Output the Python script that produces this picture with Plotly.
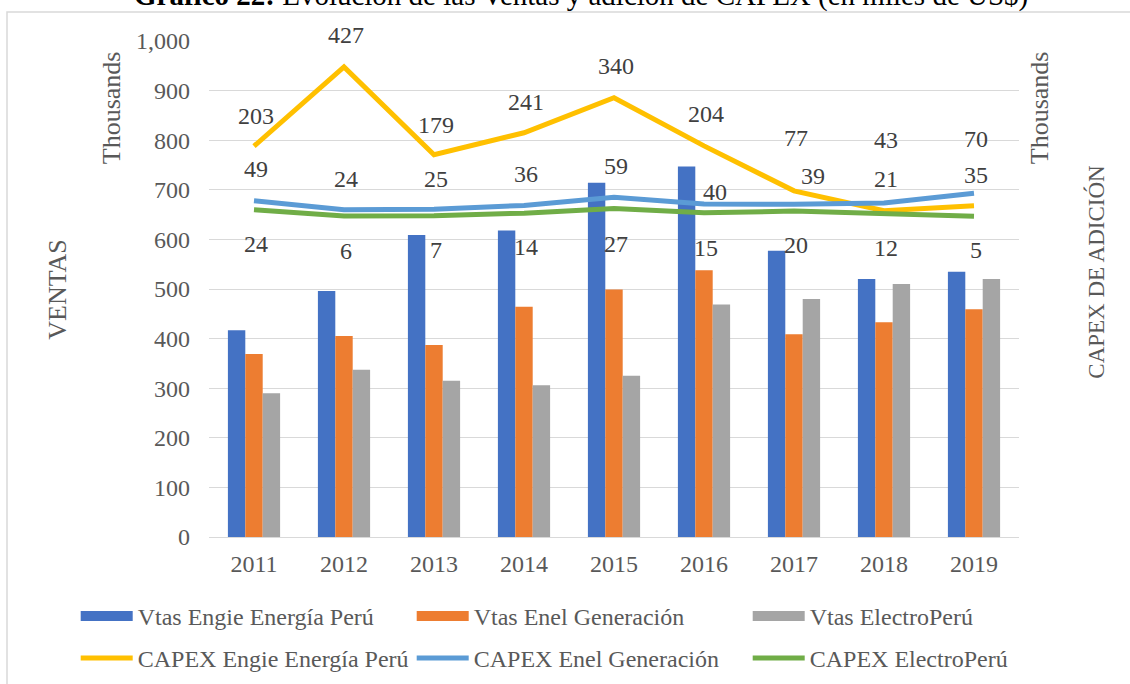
import plotly.graph_objects as go

# ---------------- data ----------------
years = ["2011", "2012", "2013", "2014", "2015", "2016", "2017", "2018", "2019"]

vtas_engie = [417, 496, 609, 618, 714, 747, 577, 520, 535]
vtas_enel = [369, 405, 387, 464, 499, 538, 409, 433, 459]
vtas_electro = [290, 337, 315, 306, 325, 469, 480, 510, 520]

# CAPEX lines (as drawn)
capex_engie = [203, 427, 179, 241, 340, 204, 77, 21, 35]
capex_enel = [49, 24, 25, 36, 59, 40, 39, 43, 70]
capex_electro = [24, 6, 7, 14, 27, 15, 20, 12, 5]

# CAPEX data labels (as printed)
lbl_engie = ["203", "427", "179", "241", "340", "204", "77", "43", "70"]
lbl_enel = ["49", "24", "25", "36", "59", "40", "39", "21", "35"]
lbl_electro = ["24", "6", "7", "14", "27", "15", "20", "12", "5"]

y_ticks = list(range(0, 1001, 100))

# ---------------- styles ----------------
SERIF = "Liberation Serif, Times New Roman, serif"
C_BLUE, C_ORANGE, C_GRAY = "#4472C4", "#ED7D31", "#A5A5A5"
C_YEL, C_LBLUE, C_GREEN = "#FFC000", "#5B9BD5", "#70AD47"
TXT = "#595959"
LBL = "#404040"
GRID = "#D9D9D9"

# label offsets (px) relative to their line point
shift_engie = [30, 32, 30, 31, 32, 32, 53, 71, 67]
shift_enel = [32, 31, 30, 31, 31, 12, 28, 24, 18]
shift_electro = [-34, -35, -34, -34, -35, -35, -34, -34, -34]
xs_engie = [2] * 9
xs_enel = [2, 2, 2, 2, 2, 11, 19, 2, 2]
xs_electro = [2] * 9

fig = go.Figure()

for name, vals, col in [("Vtas Engie Energía Perú", vtas_engie, C_BLUE),
                        ("Vtas Enel Generación", vtas_enel, C_ORANGE),
                        ("Vtas ElectroPerú", vtas_electro, C_GRAY)]:
    fig.add_trace(go.Bar(x=years, y=vals, name=name, marker=dict(color=col, line=dict(width=0)),
                         showlegend=False, hoverinfo="x+y+name"))

# legend proxies for bars (wide rectangles)
for name, col in [("Vtas Engie Energía Perú", C_BLUE),
                  ("Vtas Enel Generación", C_ORANGE),
                  ("Vtas ElectroPerú", C_GRAY)]:
    fig.add_trace(go.Scatter(x=[years[0]], y=[None], mode="lines", name=name,
                             line=dict(color=col, width=11), legend="legend",
                             hoverinfo="skip"))

for name, vals, col in [("CAPEX Engie Energía Perú", capex_engie, C_YEL),
                        ("CAPEX Enel Generación", capex_enel, C_LBLUE),
                        ("CAPEX ElectroPerú", capex_electro, C_GREEN)]:
    fig.add_trace(go.Scatter(x=years, y=vals, name=name, mode="lines", yaxis="y2",
                             line=dict(color=col, width=5), legend="legend2"))

# data labels (x given as category index)
annots = []
for vals, lbls, ys, xs in [(capex_engie, lbl_engie, shift_engie, xs_engie),
                           (capex_enel, lbl_enel, shift_enel, xs_enel),
                           (capex_electro, lbl_electro, shift_electro, xs_electro)]:
    for i, (v, t, dy, dx) in enumerate(zip(vals, lbls, ys, xs)):
        annots.append(dict(x=i, y=v, xref="x", yref="y2", text=t, showarrow=False,
                           yshift=dy, xshift=dx, xanchor="center", yanchor="middle",
                           font=dict(family=SERIF, size=24, color=LBL)))


def px_x(p):
    return (p - 209.3) / 810.0


def px_y(p):
    return (537.0 - p) / 496.0


# title (cropped at top as in source)
annots.append(dict(x=px_x(581), y=px_y(-4), xref="paper", yref="paper", showarrow=False,
                   text="<b>Gráfico 22:</b> Evolución de las Ventas y adición de CAPEX (en miles de US$)",
                   xanchor="center", yanchor="middle",
                   font=dict(family=SERIF, size=29, color="#000000")))
# axis titles & display-unit labels
annots.append(dict(x=px_x(112), y=px_y(107.5), xref="paper", yref="paper", showarrow=False,
                   text="Thousands", textangle=-90, xanchor="center", yanchor="middle",
                   font=dict(family=SERIF, size=26, color=TXT)))
annots.append(dict(x=px_x(1040), y=px_y(107.5), xref="paper", yref="paper", showarrow=False,
                   text="Thousands", textangle=-90, xanchor="center", yanchor="middle",
                   font=dict(family=SERIF, size=26, color=TXT)))
annots.append(dict(x=px_x(57), y=px_y(290), xref="paper", yref="paper", showarrow=False,
                   text="VENTAS", textangle=-90, xanchor="center", yanchor="middle",
                   font=dict(family=SERIF, size=26, color=TXT)))
annots.append(dict(x=px_x(1096), y=px_y(272), xref="paper", yref="paper", showarrow=False,
                   text="CAPEX DE ADICIÓN", textangle=-90, xanchor="center", yanchor="middle",
                   font=dict(family=SERIF, size=23, color=TXT)))

# outer chart frame
shapes = [dict(type="rect", xref="paper", yref="paper",
               x0=px_x(7.3), x1=px_x(1200), y0=px_y(720), y1=px_y(12),
               line=dict(color=GRID, width=1.5), fillcolor="rgba(0,0,0,0)", layer="below")]

fig.update_layout(
    width=1130, height=684,
    margin=dict(l=209.3, r=110.7, t=41, b=147, autoexpand=False),
    paper_bgcolor="white", plot_bgcolor="white",
    barmode="group", bargap=0.42, bargroupgap=0,
    font=dict(family=SERIF, size=24, color=TXT),
    xaxis=dict(type="category", categoryorder="array", categoryarray=years,
               range=[-0.5, len(years) - 0.5], autorange=False,
               showgrid=False, showline=False,
               ticks="", tickfont=dict(family=SERIF, size=24, color=TXT),
               ticklabelstandoff=10),
    yaxis=dict(range=[0, 1000], tickvals=y_ticks, tickformat=",d", showgrid=True,
               gridcolor=GRID, gridwidth=1.3, zeroline=True, zerolinecolor=GRID,
               zerolinewidth=1.3, showline=False, ticks="",
               tickfont=dict(family=SERIF, size=24, color=TXT), ticklabelstandoff=18),
    yaxis2=dict(range=[-900, 500], overlaying="y", side="right", showgrid=False,
                zeroline=False, showticklabels=False, showline=False, ticks=""),
    legend=dict(orientation="h", x=px_x(76), y=px_y(594), xanchor="left", yanchor="top",
                itemwidth=52, entrywidth=269, entrywidthmode="pixels",
                font=dict(family=SERIF, size=24, color=TXT), bgcolor="rgba(0,0,0,0)",
                itemclick=False, itemdoubleclick=False),
    legend2=dict(orientation="h", x=px_x(76), y=px_y(636), xanchor="left", yanchor="top",
                 itemwidth=52, entrywidth=269, entrywidthmode="pixels",
                 font=dict(family=SERIF, size=24, color=TXT), bgcolor="rgba(0,0,0,0)",
                 itemclick=False, itemdoubleclick=False),
    annotations=annots,
    shapes=shapes,
    showlegend=True,
)

fig.write_html("out.html", config={"displayModeBar": False},
               post_script="document.body.style.margin='0px';")
